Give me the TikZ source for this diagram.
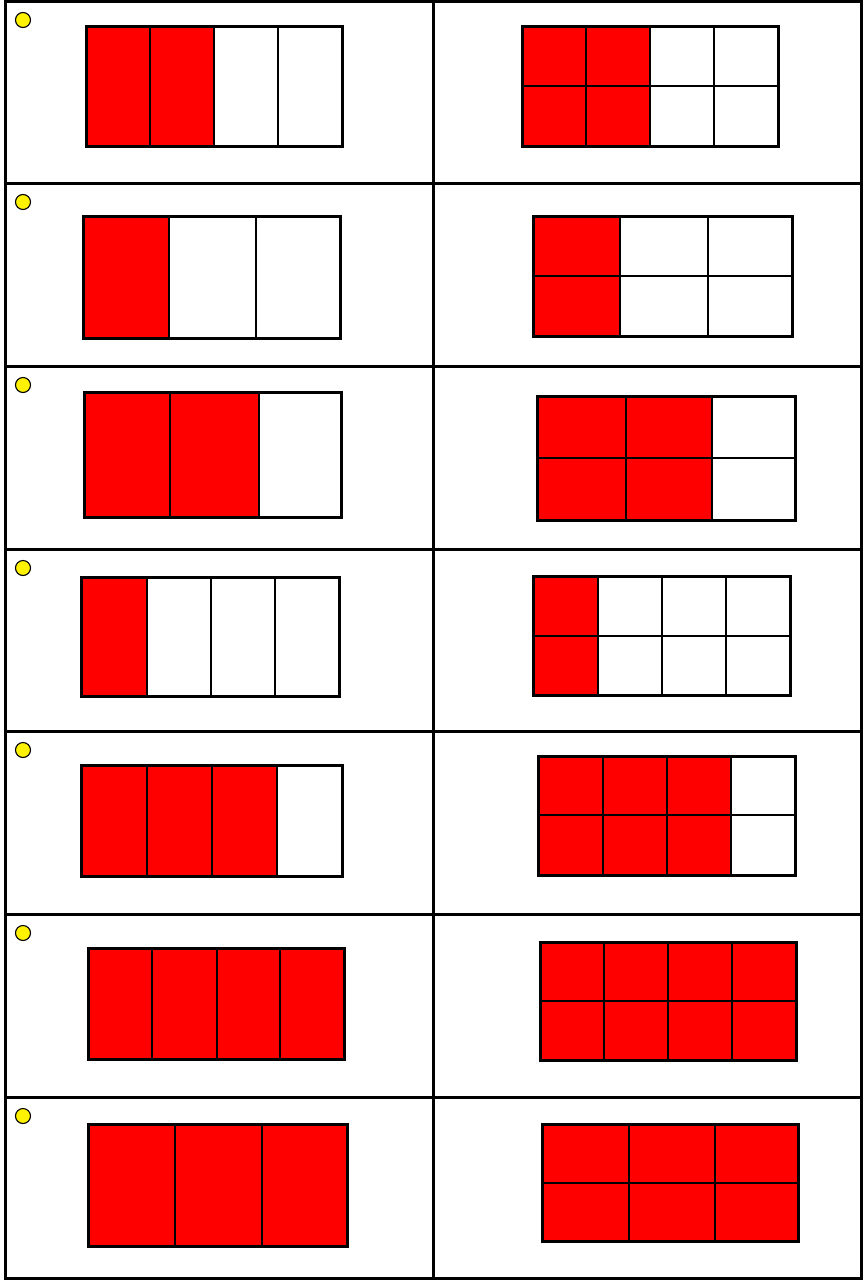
\documentclass[tikz,border=0pt]{standalone}
\begin{document}
\begin{tikzpicture}[x=1pt, y=-1pt,
  rule/.style={line width=3pt},
  frame/.style={draw, line width=3pt},
  part/.style={draw, line width=2.6pt},
  shaded/.style={fill=red},
  radio/.style={draw, circle, fill=yellow, line width=1.1pt, minimum size=15pt, inner sep=0pt}]
  \useasboundingbox (0,0) rectangle (866,1280);
  % table
  \draw[rule] (5,1) rectangle (861,1278);
  \draw[rule] (433,1) -- (433,1278);
  \draw[rule] (5,183) -- (861,183) (5,366) -- (861,366) (5,549) -- (861,549);
  \draw[rule] (5,731) -- (861,731) (5,914) -- (861,914) (5,1097) -- (861,1097);
  % row 1: 2/4 and 4/8
  \node[radio] (opt1) at (23,20) {};
  \fill[shaded] (86,26) rectangle (214,146);
  \draw[part] (150,26) -- (150,146) (214,26) -- (214,146) (278,26) -- (278,146);
  \draw[frame] (86,26) rectangle (342,146);
  \fill[shaded] (522,26) rectangle (650,146);
  \draw[part] (586,26) -- (586,146) (650,26) -- (650,146) (714,26) -- (714,146) (522,86) -- (778,86);
  \draw[frame] (522,26) rectangle (778,146);
  % row 2: 1/3 and 2/6
  \node[radio] (opt2) at (23,202) {};
  \fill[shaded] (83,216) rectangle (169,338);
  \draw[part] (169,216) -- (169,338) (256,216) -- (256,338);
  \draw[frame] (83,216) rectangle (340,338);
  \fill[shaded] (533,216) rectangle (620,336);
  \draw[part] (620,216) -- (620,336) (708,216) -- (708,336) (533,276) -- (792,276);
  \draw[frame] (533,216) rectangle (792,336);
  % row 3: 2/3 and 4/6
  \node[radio] (opt3) at (23,385) {};
  \fill[shaded] (84,392) rectangle (259,517);
  \draw[part] (170,392) -- (170,517) (259,392) -- (259,517);
  \draw[frame] (84,392) rectangle (341,517);
  \fill[shaded] (537,396) rectangle (712,520);
  \draw[part] (626,396) -- (626,520) (712,396) -- (712,520) (537,458) -- (795,458);
  \draw[frame] (537,396) rectangle (795,520);
  % row 4: 1/4 and 2/8
  \node[radio] (opt4) at (23,568) {};
  \fill[shaded] (81,577) rectangle (147,696);
  \draw[part] (147,577) -- (147,696) (211,577) -- (211,696) (275,577) -- (275,696);
  \draw[frame] (81,577) rectangle (339,696);
  \fill[shaded] (533,576) rectangle (598,695);
  \draw[part] (598,576) -- (598,695) (662,576) -- (662,695) (726,576) -- (726,695) (533,636) -- (790,636);
  \draw[frame] (533,576) rectangle (790,695);
  % row 5: 3/4 and 6/8
  \node[radio] (opt5) at (23,750) {};
  \fill[shaded] (81,765) rectangle (277,876);
  \draw[part] (147,765) -- (147,876) (212,765) -- (212,876) (277,765) -- (277,876);
  \draw[frame] (81,765) rectangle (342,876);
  \fill[shaded] (538,756) rectangle (731,875);
  \draw[part] (603,756) -- (603,875) (667,756) -- (667,875) (731,756) -- (731,875) (538,815) -- (795,815);
  \draw[frame] (538,756) rectangle (795,875);
  % row 6: 4/4 and 8/8
  \node[radio] (opt6) at (23,933) {};
  \fill[shaded] (88,948) rectangle (344,1059);
  \draw[part] (152,948) -- (152,1059) (217,948) -- (217,1059) (280,948) -- (280,1059);
  \draw[frame] (88,948) rectangle (344,1059);
  \fill[shaded] (540,942) rectangle (796,1060);
  \draw[part] (604,942) -- (604,1060) (668,942) -- (668,1060) (732,942) -- (732,1060) (540,1001) -- (796,1001);
  \draw[frame] (540,942) rectangle (796,1060);
  % row 7: 3/3 and 6/6
  \node[radio] (opt7) at (23,1116) {};
  \fill[shaded] (88,1124) rectangle (347,1246);
  \draw[part] (175,1124) -- (175,1246) (262,1124) -- (262,1246);
  \draw[frame] (88,1124) rectangle (347,1246);
  \fill[shaded] (542,1124) rectangle (798,1241);
  \draw[part] (629,1124) -- (629,1241) (715,1124) -- (715,1241) (542,1183) -- (798,1183);
  \draw[frame] (542,1124) rectangle (798,1241);
\end{tikzpicture}
\end{document}
